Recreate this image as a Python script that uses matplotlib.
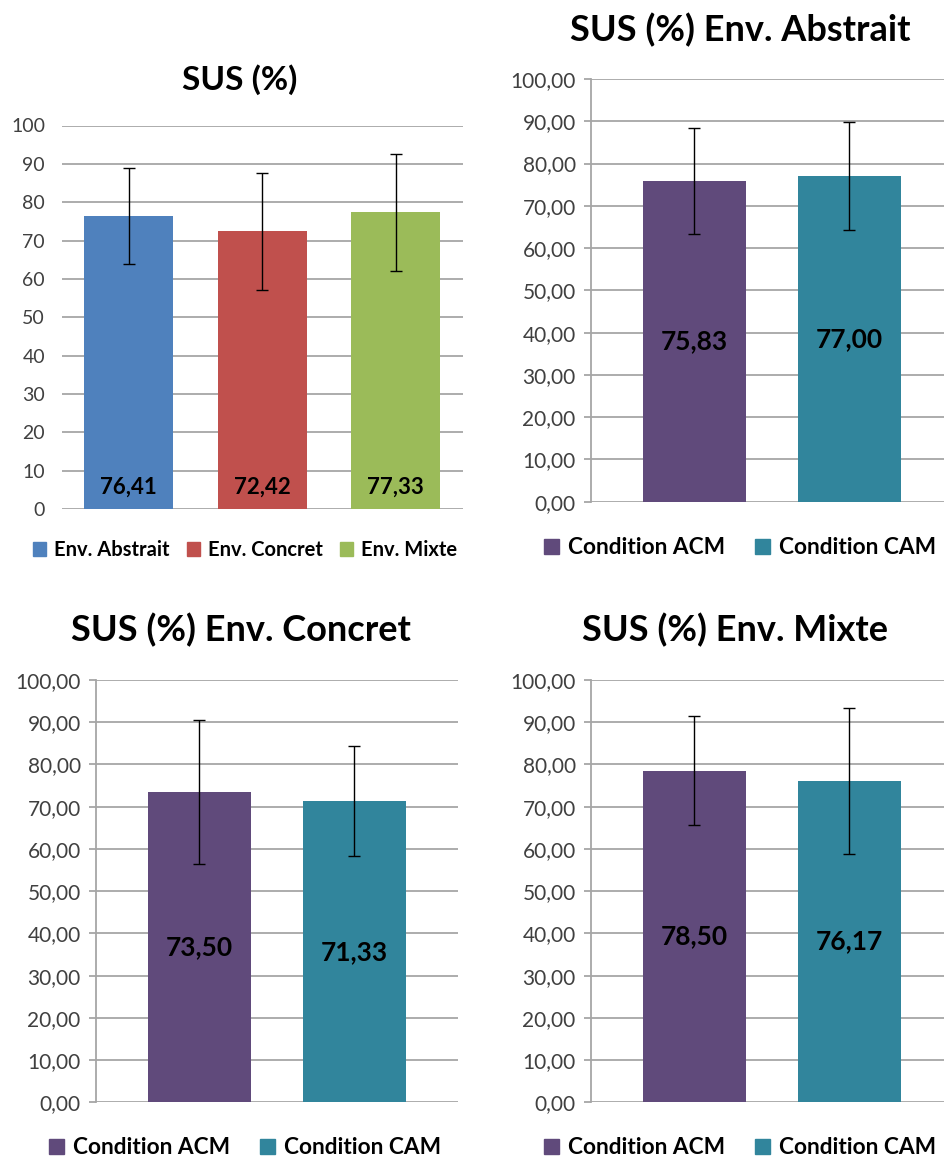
import matplotlib
matplotlib.use('Agg')
import matplotlib.pyplot as plt
from matplotlib.patches import Patch

plt.rcParams['font.family'] = ['Lato', 'DejaVu Sans']

# données
env_names = ['Env. Abstrait', 'Env. Concret', 'Env. Mixte']
env_means = [76.41, 72.42, 77.33]
env_err = [12.6, 15.3, 15.3]
env_colors = ['#4F81BD', '#C0504D', '#9BBB59']

conditions = ['Condition ACM', 'Condition CAM']
cond_colors = ['#604A7B', '#31859C']
abstrait_means = [75.83, 77.00]
abstrait_err = [12.6, 12.8]
concret_means = [73.50, 71.33]
concret_err = [17.1, 13.1]
mixte_means = [78.50, 76.17]
mixte_err = [12.9, 17.3]

W, H = 944, 1160
fig = plt.figure(figsize=(W / 100, H / 100), dpi=100)
grid_col = '#A6A6A6'
txt_col = '#404040'


def px_axes(left, right, top, bottom):
    return fig.add_axes([left / W, 1 - bottom / H, (right - left) / W, (bottom - top) / H])


def fmt(v):
    return '{:.2f}'.format(v).replace('.', ',')


def panel(ax, names, means, errs, colors, xlim, spine, decimals, label_mid):
    xs = range(len(names))
    for i in xs:
        ax.bar(i, means[i], width=0.665, color=colors[i], label=names[i], zorder=2)
        ax.errorbar(i, means[i], yerr=errs[i], color='black', lw=1, capsize=4, capthick=1, zorder=3)
        if label_mid:
            ax.text(i, means[i] / 2, fmt(means[i]), ha='center', va='center',
                    fontsize=19, fontweight='bold', zorder=4)
        else:
            ax.text(i, 5.8, fmt(means[i]), ha='center', va='center',
                    fontsize=16, fontweight='bold', zorder=4)
    ax.set_xlim(*xlim)
    ax.set_ylim(0, 100)
    ax.set_yticks(range(0, 101, 10))
    if decimals:
        ax.set_yticklabels([fmt(t) for t in range(0, 101, 10)])
    ax.set_xticks([])
    ax.yaxis.grid(True, color=grid_col, lw=1.3, zorder=0)
    ax.set_axisbelow(True)
    for s in ['top', 'right', 'bottom']:
        ax.spines[s].set_visible(False)
    if spine:
        ax.spines['left'].set_color(grid_col)
        ax.spines['left'].set_linewidth(1.3)
        ax.tick_params(axis='y', length=5, color=grid_col, width=1.3, pad=6, labelsize=15, labelcolor=txt_col)
    else:
        ax.spines['left'].set_visible(False)
        ax.tick_params(axis='y', length=0, pad=12, labelsize=14, labelcolor=txt_col)


def legend(ax, names, colors, cx, cy, size, spacing):
    handles = [Patch(color=c, label=n) for n, c in zip(names, colors)]
    ax.legend(handles=handles, loc='center', bbox_to_anchor=(cx / W, 1 - cy / H),
              bbox_transform=fig.transFigure, ncol=len(names), frameon=False,
              handlelength=0.65, handleheight=0.65, handletextpad=0.4, columnspacing=spacing,
              prop={'weight': 'bold', 'size': size})


# SUS global
ax1 = px_axes(61.7, 462.7, 125.5, 509)
panel(ax1, env_names, env_means, env_err, env_colors, (-0.5, 2.5), False, False, False)
legend(ax1, env_names, env_colors, 245, 550, 14.5, 0.85)
fig.text(240 / W, 1 - 80 / H, 'SUS (%)', ha='center', va='center', fontsize=24, fontweight='bold')

# Env. Abstrait
ax2 = px_axes(591, 944, 79, 501.7)
panel(ax2, conditions, abstrait_means, abstrait_err, cond_colors, (-0.667, 1.611), True, True, True)
legend(ax2, conditions, cond_colors, 740, 548, 16.3, 1.35)
fig.text(740 / W, 1 - 30 / H, 'SUS (%) Env. Abstrait', ha='center', va='center', fontsize=26, fontweight='bold')

# Env. Concret
ax3 = px_axes(96, 457.7, 680, 1102.3)
panel(ax3, conditions, concret_means, concret_err, cond_colors, (-0.667, 1.667), True, True, True)
legend(ax3, conditions, cond_colors, 245, 1148, 16.3, 1.35)
fig.text(241 / W, 1 - 630 / H, 'SUS (%) Env. Concret', ha='center', va='center', fontsize=26, fontweight='bold')

# Env. Mixte
ax4 = px_axes(591, 944, 680, 1102.3)
panel(ax4, conditions, mixte_means, mixte_err, cond_colors, (-0.667, 1.611), True, True, True)
legend(ax4, conditions, cond_colors, 740, 1148, 16.3, 1.35)
fig.text(735 / W, 1 - 630 / H, 'SUS (%) Env. Mixte', ha='center', va='center', fontsize=26, fontweight='bold')

fig.savefig('out.png', dpi=100)
